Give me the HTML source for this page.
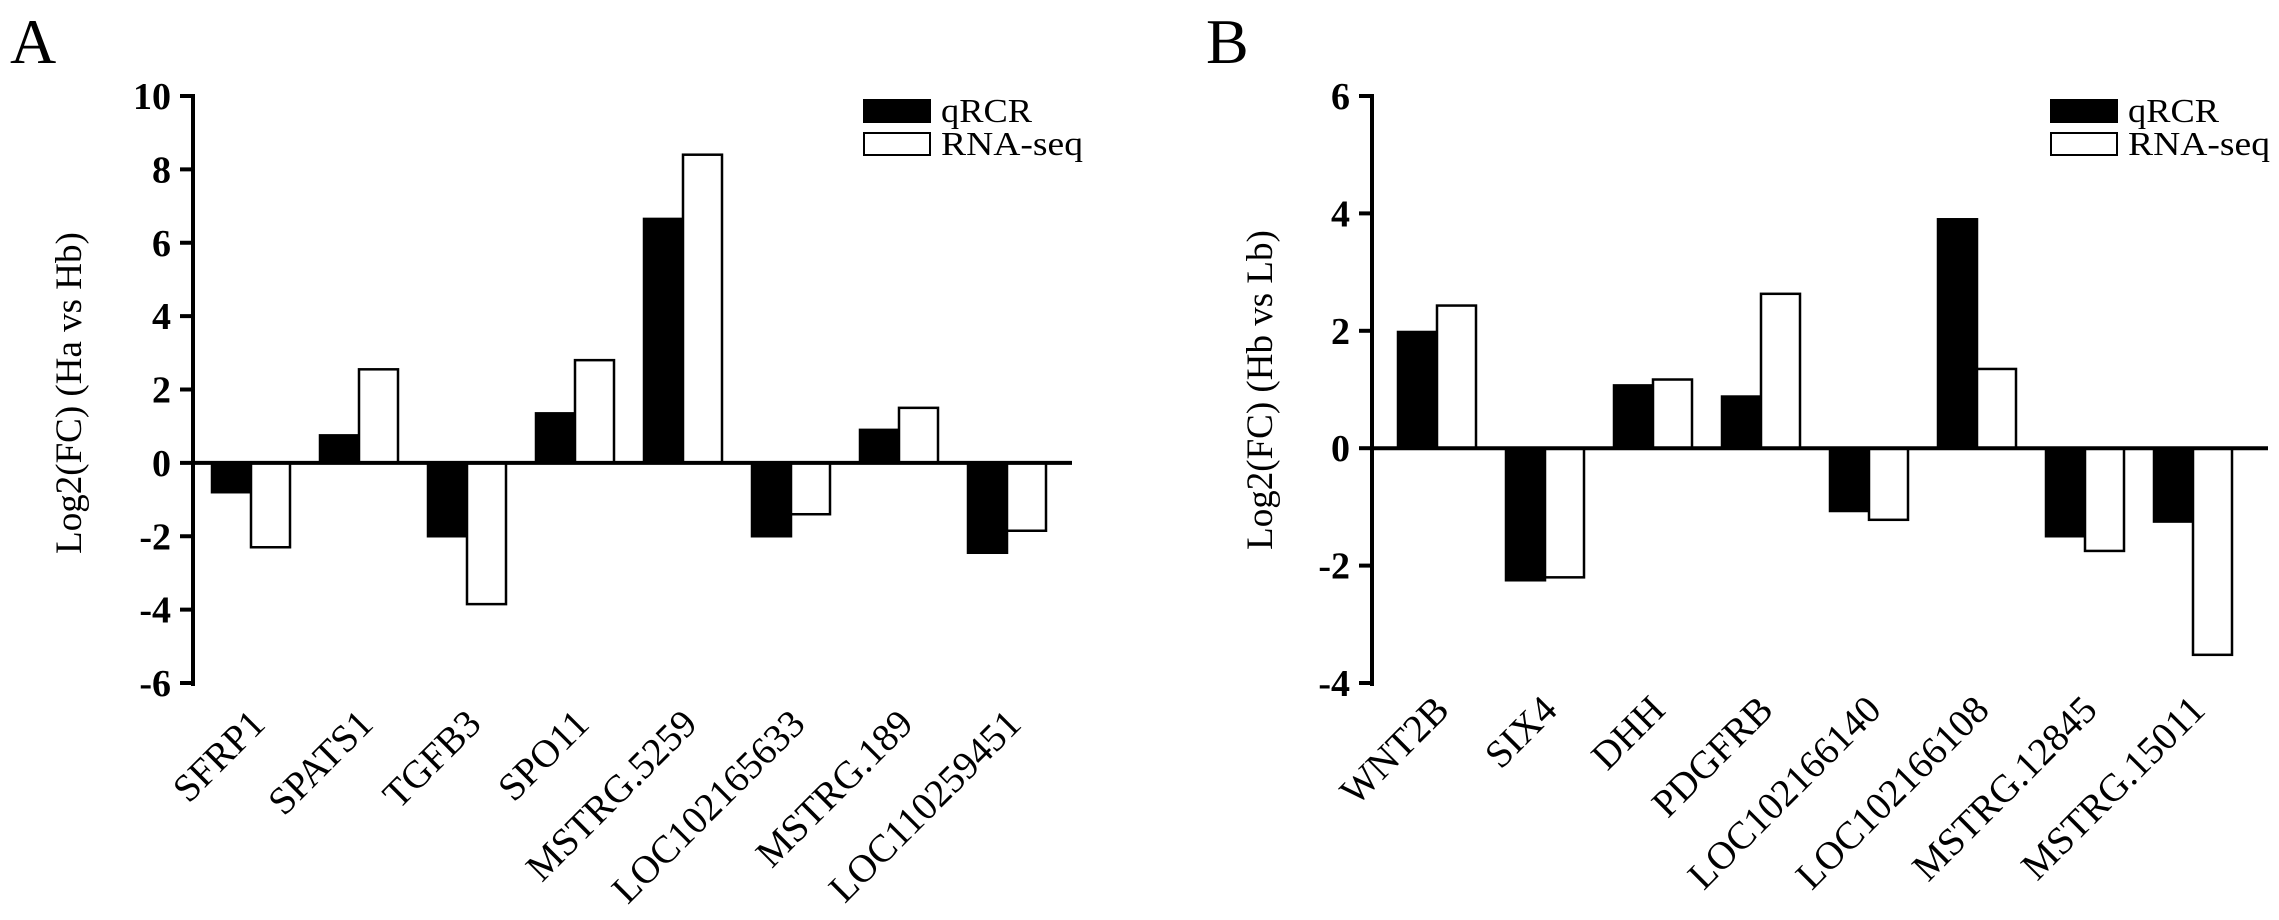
<!DOCTYPE html>
<html><head><meta charset="utf-8"><style>
html,body{margin:0;padding:0;background:#fff;}
svg{display:block;font-family:"Liberation Serif",serif;}
</style></head><body>
<svg id="chart" width="2279" height="920" viewBox="0 0 2279 920"></svg>
<script>
const catsA = ["SFRP1","SPATS1","TGFB3","SPO11","MSTRG.5259","LOC102165633","MSTRG.189","LOC110259451"];
const qpcrA = [-0.8, 0.75, -2.0, 1.35, 6.65, -2.0, 0.9, -2.45];
const rnaA = [-2.3, 2.55, -3.85, 2.8, 8.4, -1.4, 1.5, -1.85];
const ticksA = [10, 8, 6, 4, 2, 0, -2, -4, -6];
const catsB = ["WNT2B","SIX4","DHH","PDGFRB","LOC102166140","LOC102166108","MSTRG.12845","MSTRG.15011"];
const qpcrB = [1.98, -2.25, 1.07, 0.88, -1.07, 3.9, -1.5, -1.25];
const rnaB = [2.43, -2.2, 1.17, 2.63, -1.22, 1.35, -1.75, -3.52];
const ticksB = [6, 4, 2, 0, -2, -4];
const seriesNames = ["qRCR","RNA-seq"];

const NS = "http://www.w3.org/2000/svg";
const svg = document.getElementById("chart");
function mk(tag, attrs, parent, text){
  const e = document.createElementNS(NS, tag);
  for (const k in attrs) e.setAttribute(k, attrs[k]);
  if (text !== undefined) e.textContent = text;
  (parent||svg).appendChild(e);
  return e;
}

function panel(cfg){
  const g = mk("g", {});
  
  
  const ymax = cfg.ticks[0], ymin = cfg.ticks[cfg.ticks.length-1];
  const y = v => cfg.yTop + (ymax - v) / (ymax - ymin) * (cfg.yBot - cfg.yTop);
  const L = mk("text", {x: cfg.letterX, y: 63, "font-size": 64}, g, cfg.letter);
  
  
  cfg.cats.forEach((c, i) => {
    const x0 = cfg.barStart + i * cfg.pitch;
    [cfg.q[i], cfg.r[i]].forEach((v, s) => {
      const yv = y(v), y0 = y(0);
      const rect = mk("rect", {x: x0 + s*cfg.bw, y: Math.min(yv,y0), width: cfg.bw, height: Math.abs(yv-y0),
        fill: s===0 ? "#000" : "#fff", stroke: "#000", "stroke-width": 2.5}, g);
      
      
    });
    const cx = x0 + cfg.bw + cfg.lblDx;
    const t = mk("text", {x: cx, y: cfg.lblY, "font-size": 39, "text-anchor": "end",
      transform: "rotate(-45 " + cx + " " + cfg.lblY + ")"}, g, c);
    
    
  });
  const ax = mk("line", {x1: cfg.axX, y1: cfg.yTop-2, x2: cfg.axX, y2: cfg.yBot+3, stroke: "#000", "stroke-width": 4}, g);
  
  
  const bl = mk("line", {x1: cfg.axX, y1: y(0), x2: cfg.baseEnd, y2: y(0), stroke: "#000", "stroke-width": 4}, g);
  
  
  cfg.ticks.forEach(v => {
    const tk = mk("line", {x1: cfg.axX-13, y1: y(v), x2: cfg.axX, y2: y(v), stroke: "#000", "stroke-width": 4}, g);
    
    
    const tl = mk("text", {x: cfg.axX-22, y: y(v)+13, "font-size": 38, "font-weight": "bold", "text-anchor": "end"}, g, String(v));
    
    
  });
  const tt = mk("text", {x: cfg.titleX, y: cfg.titleY, "font-size": 37, "text-anchor": "middle",
    transform: "rotate(-90 " + cfg.titleX + " " + cfg.titleY + ")"}, g, cfg.title);
  
  
  const lens = [91, 142];
  seriesNames.forEach((n, s) => {
    const ly = 100 + s*33;
    const lr = mk("rect", {x: cfg.legX, y: ly, width: 66, height: 22, fill: s===0?"#000":"#fff", stroke: "#000", "stroke-width": 2}, g);
    
    
    const lt = mk("text", {x: cfg.legX + 77, y: ly + 22, "font-size": 34, textLength: lens[s], lengthAdjust: "spacingAndGlyphs"}, g, n);
    
    
  });
}

panel({id:"a", letter:"A", letterX:10, cats:catsA, q:qpcrA, r:rnaA, ticks:ticksA,
  yTop:96, yBot:683, axX:193, baseEnd:1072, barStart:212, pitch:108, bw:39,
  lblDx:16, lblY:726, titleX:81, titleY:393, title:"Log2(FC) (Ha vs Hb)", legX:864});
panel({id:"b", letter:"B", letterX:1206, cats:catsB, q:qpcrB, r:rnaB, ticks:ticksB,
  yTop:96, yBot:683, axX:1372, baseEnd:2268, barStart:1398, pitch:108, bw:39,
  lblDx:14, lblY:712, titleX:1272, titleY:390, title:"Log2(FC) (Hb vs Lb)", legX:2051});
</script>
</body></html>
